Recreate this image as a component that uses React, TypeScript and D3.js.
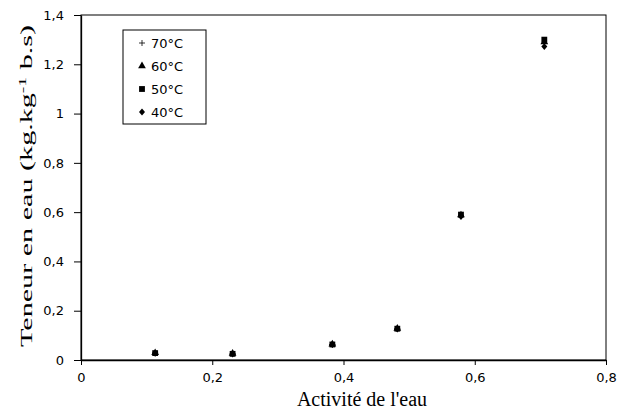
import { useEffect, useRef } from "react";
import { select, scaleLinear, axisBottom, axisLeft, symbol, symbolTriangle, symbolSquare } from "d3";

// water activity of the saturated salt solutions
const activity = [0.113, 0.231, 0.383, 0.482, 0.579, 0.706];

// water content (kg/kg d.b.) per temperature
const series70 = [0.028, 0.025, 0.063, 0.127, 0.585, 1.285];
const series60 = [0.029, 0.026, 0.064, 0.128, 0.588, 1.29];
const series50 = [0.028, 0.025, 0.063, 0.127, 0.59, 1.3];
const series40 = [0.027, 0.024, 0.062, 0.125, 0.582, 1.272];

const seriesLabels = ["70°C", "60°C", "50°C", "40°C"];

const xTicks = [0, 0.2, 0.4, 0.6, 0.8];
const yTicks = [0, 0.2, 0.4, 0.6, 0.8, 1, 1.2, 1.4];

const fmt = (v: number) => String(v).replace(".", ",");

const plusPath = "M-3,0H3M0,-3V3";
const diamondPath = "M0,-3.4L3,0L0,3.4L-3,0Z";

export default function App() {
  const svgRef = useRef<SVGSVGElement | null>(null);

  useEffect(() => {
    if (!svgRef.current) return;
    const svg = select(svgRef.current);
    svg.selectAll("*").remove();

    const left = 81, right = 606, top = 15, bottom = 360;

    const xScale = scaleLinear().domain([0, 0.8]).range([left, right]);
    const yScale = scaleLinear().domain([0, 1.4]).range([bottom, top]);

    // plot frame
    svg
      .append("rect")
      .attr("x", left)
      .attr("y", top)
      .attr("width", right - left)
      .attr("height", bottom - top)
      .attr("fill", "none")
      .attr("stroke", "#000")
      .attr("stroke-width", 1);

    const xAxis = svg
      .append("g")
      .attr("transform", `translate(0,${bottom})`)
      .call(axisBottom(xScale).tickValues(xTicks).tickSizeInner(5).tickSizeOuter(0).tickPadding(8).tickFormat((d: any) => fmt(d)));
    xAxis.select(".domain").attr("stroke", "#000").attr("stroke-width", 1.3);

    const yAxis = svg
      .append("g")
      .attr("transform", `translate(${left},0)`)
      .call(axisLeft(yScale).tickValues(yTicks).tickSizeInner(7).tickSizeOuter(0).tickPadding(10).tickFormat((d: any) => fmt(d)));
    yAxis.select(".domain").attr("stroke", "#000").attr("stroke-width", 1.3);

    svg
      .selectAll(".tick text")
      .attr("font-family", "'DejaVu Sans', Verdana, sans-serif")
      .attr("font-size", 13)
      .attr("fill", "#000");

    const paths = [
      plusPath,
      symbol(symbolTriangle, 26)(),
      symbol(symbolSquare, 34)(),
      diamondPath,
    ];
    const allSeries = [series70, series60, series50, series40];

    // draw 40 first so that the squares sit on top like the original
    [3, 1, 0, 2].forEach((i) => {
      svg
        .append("g")
        .selectAll("path")
        .data(allSeries[i])
        .enter()
        .append("path")
        .attr("d", paths[i] as string)
        .attr("transform", (d, j) => `translate(${xScale(activity[j])},${yScale(d)})`)
        .attr("fill", i === 0 ? "none" : "#000")
        .attr("stroke", i === 0 ? "#000" : "none")
        .attr("stroke-width", 0.8);
    });

    // legend
    const legend = svg.append("g");
    legend
      .append("rect")
      .attr("x", 123)
      .attr("y", 30)
      .attr("width", 83)
      .attr("height", 94)
      .attr("fill", "#fff")
      .attr("stroke", "#000")
      .attr("stroke-width", 1);

    seriesLabels.forEach((label, i) => {
      const cy = 43 + i * 23;
      legend
        .append("path")
        .attr("d", paths[i] as string)
        .attr("transform", `translate(142,${cy})`)
        .attr("fill", i === 0 ? "none" : "#000")
        .attr("stroke", i === 0 ? "#000" : "none")
        .attr("stroke-width", 0.8);
      legend
        .append("text")
        .attr("x", 151)
        .attr("y", cy + 5)
        .attr("font-family", "'DejaVu Sans', Verdana, sans-serif")
        .attr("font-size", 13)
        .text(label);
    });

    // axis titles
    svg
      .append("text")
      .attr("x", 362)
      .attr("y", 406)
      .attr("text-anchor", "middle")
      .attr("font-family", "'Liberation Serif', 'Times New Roman', serif")
      .attr("font-size", 20)
      .text("Activité de l'eau");

    const yTitle = svg
      .append("text")
      .attr("transform", "translate(32,186) rotate(-90)")
      .attr("text-anchor", "middle")
      .attr("font-family", "'Liberation Serif', 'Times New Roman', serif")
      .attr("font-size", 17)
      .attr("textLength", 322)
      .attr("lengthAdjust", "spacingAndGlyphs");
    yTitle.append("tspan").text("Teneur en eau (kg.kg");
    yTitle.append("tspan").attr("dy", -6).attr("font-size", 11).text("-1");
    yTitle.append("tspan").attr("dy", 6).text(" b.s)");
  }, []);

  return (
    <svg
      ref={svgRef}
      width={619}
      height={412}
      style={{ position: "absolute", left: 0, top: 0, background: "#fff" }}
    ></svg>
  );
}
